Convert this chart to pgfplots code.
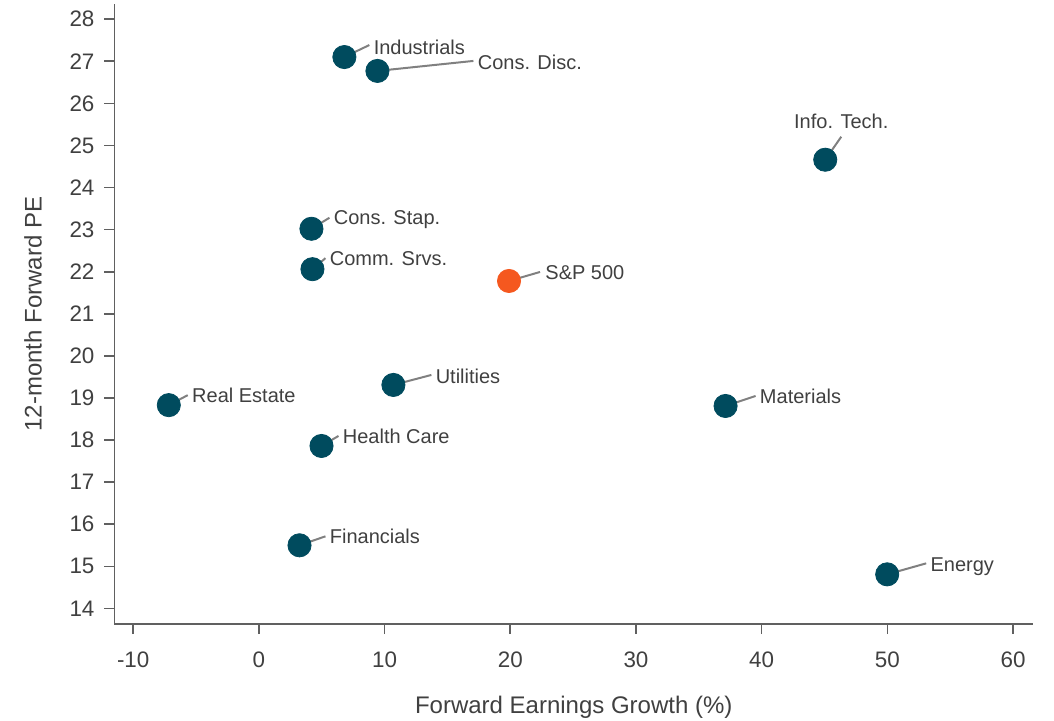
\documentclass[border=0pt]{standalone}
\usepackage{pgfplots}
\pgfplotsset{compat=1.18}
\usepackage{fontspec}
\setmainfont{Liberation Sans}

\definecolor{sector}{HTML}{004B5E}
\definecolor{spx}{HTML}{F5581F}
\definecolor{txt}{HTML}{404040}
\definecolor{leader}{HTML}{808080}
\definecolor{spine}{HTML}{606060}

% label with a leader line: x, y, line dx, line dy, text dx, text dy, text
\newcommand{\lab}[7]{%
  \draw[leader, line width=1pt] (axis cs:#1,#2) -- ([shift={(#3pt,#4pt)}]axis cs:#1,#2);
  \node[anchor=base west, inner sep=0pt, text=txt, font=\fontsize{10}{12}\selectfont]
    at ([shift={(#5pt,#6pt-3.6pt)}]axis cs:#1,#2) {#7};}

\begin{document}
\begin{tikzpicture}
\path[use as bounding box] (-57.25pt,-48pt) rectangle (469.75pt,312pt);
\begin{axis}[
  at={(0,0)}, anchor=south west,
  scale only axis,
  width=459.25pt, height=310pt,
  xmin=-11.49, xmax=61.59,
  ymin=13.63, ymax=28.36,
  xtick={-10,0,...,60},
  ytick={14,15,...,28},
  axis x line*=bottom,
  axis y line*=left,
  axis line style={spine, line width=0.8pt},
  x axis line style={-},
  y axis line style={-},
  tick align=outside,
  major tick length=5pt,
  tick style={spine, line width=0.8pt},
  ticklabel style={text=txt, font=\fontsize{11.2}{13}\selectfont},
  xticklabel style={yshift=-5.5pt},
  yticklabel style={xshift=-1.5pt},
  /pgf/number format/assume math mode=true,
  xlabel={Forward Earnings Growth (\%)},
  ylabel={12-month Forward PE},
  label style={text=txt, font=\fontsize{12}{14}\selectfont},
  xlabel style={at={([yshift=-41.5pt]axis description cs:0.5,0)}, anchor=center},
  ylabel style={at={([xshift=-40.75pt]axis description cs:0,0.5)}, anchor=center},
  clip=false,
]
\addplot[only marks, mark=*, color=sector, mark size=5.8pt, line width=0.4pt]
  coordinates {
    (6.80,27.10) (9.43,26.77) (45.06,24.66) (4.18,23.02) (4.26,22.06)
    (10.70,19.31) (-7.17,18.83) (37.13,18.81) (4.98,17.86) (3.23,15.50)
    (49.99,14.81)
  };
\addplot[only marks, mark=*, color=spx, mark size=5.8pt, line width=0.4pt]
  coordinates {(19.90,21.78)};

\lab{6.80}{27.10}{12.5}{6}{14.5}{5}{Industrials}
\lab{9.43}{26.77}{48}{5}{50}{4.5}{Cons. Disc.}
\lab{4.18}{23.02}{9}{5.5}{11}{5.5}{Cons. Stap.}
\lab{4.26}{22.06}{6.5}{5.5}{8.5}{5.5}{Comm. Srvs.}
\lab{19.90}{21.78}{15.5}{4.5}{18}{4.5}{S\&P 500}
\lab{10.70}{19.31}{19}{5}{21}{4.5}{Utilities}
\lab{-7.17}{18.83}{9.5}{5}{11.5}{5}{Real Estate}
\lab{37.13}{18.81}{15}{5}{17}{5}{Materials}
\lab{4.98}{17.86}{8.5}{5}{10.5}{5}{Health Care}
\lab{3.23}{15.50}{13}{4.5}{15}{4.5}{Financials}
\lab{49.99}{14.81}{19.5}{5.5}{21.5}{5}{Energy}
% Info. Tech. label sits above its point
\draw[leader, line width=1pt] (axis cs:45.06,24.66) -- ([shift={(8pt,11.5pt)}]axis cs:45.06,24.66);
\node[anchor=base, inner sep=0pt, text=txt, font=\fontsize{10}{12}\selectfont]
  at ([shift={(8pt,15.4pt)}]axis cs:45.06,24.66) {Info. Tech.};
\end{axis}
\end{tikzpicture}
\end{document}
